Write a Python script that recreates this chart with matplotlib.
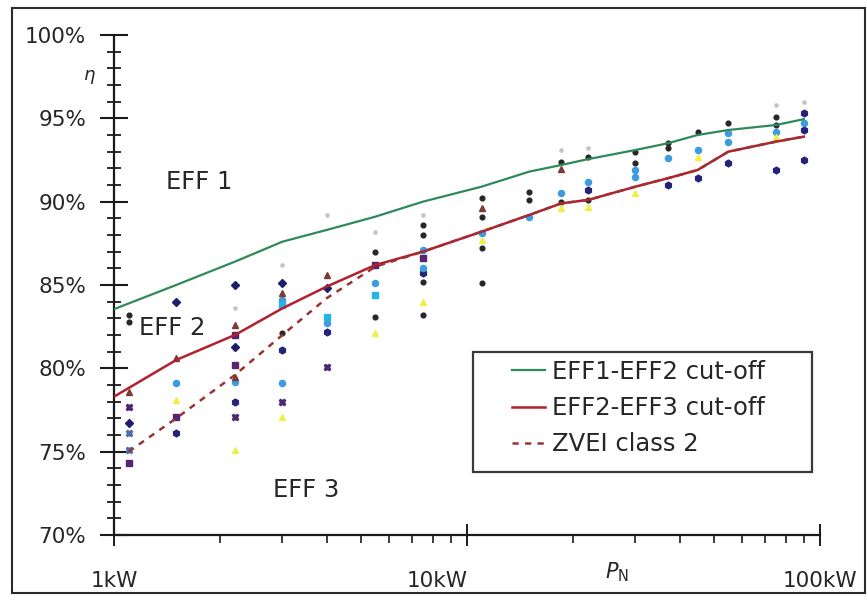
import matplotlib
matplotlib.use("Agg")
import matplotlib.pyplot as plt
from matplotlib.patches import Rectangle
from matplotlib.ticker import LogLocator, NullFormatter, FixedLocator
from matplotlib.transforms import ScaledTranslation

# ---------------- data ----------------
line_kw = [1.0, 1.5, 2.2, 3, 4, 5.5, 7.5, 11, 15, 18.5, 22, 30, 37, 45, 55, 75, 90]
eff1_eff2 = [83.55, 85.0, 86.4, 87.6, 88.3, 89.1, 90.0, 90.9, 91.8, 92.2, 92.55, 93.1, 93.5, 94.0, 94.3, 94.6, 94.95]
eff2_eff3 = [78.3, 80.5, 82.0, 83.6, 84.9, 86.2, 87.0, 88.2, 89.2, 89.9, 90.1, 90.9, 91.4, 91.9, 93.0, 93.6, 93.9]
zvei_kw = [1.1, 1.5, 2.2, 3, 4, 5.5, 7.5, 11, 15, 18.5, 22, 30, 37, 45, 55, 75, 90]
zvei_class2 = [75.0, 77.0, 79.6, 82.0, 84.2, 86.1, 87.0, 88.2, 89.2, 89.9, 90.1, 90.9, 91.4, 91.9, 93.0, 93.6, 93.9]

navy_d_kw = [1.1, 1.5, 2.2, 2.2, 3, 4]
navy_d_eta = [76.7, 84.0, 85.0, 81.3, 85.1, 84.8]

navy_o_kw = [1.5, 2.2, 3, 4, 7.5, 22, 37, 45, 55, 75, 90, 90, 90]
navy_o_eta = [76.1, 78.0, 81.1, 82.2, 85.7, 90.7, 91.0, 91.4, 92.3, 91.9, 92.5, 95.3, 94.3]

lblue_kw = [1.5, 2.2, 3, 3, 4, 5.5, 7.5, 7.5, 11, 15, 18.5, 22, 30, 30, 37, 45, 55, 55, 75, 90]
lblue_eta = [79.1, 79.2, 84.1, 79.1, 82.7, 85.1, 87.1, 86.0, 88.1, 89.1, 90.5, 91.2, 91.9, 91.5, 92.6, 93.1, 94.1, 93.6, 94.2, 94.7]

cyan_kw = [3, 4, 5.5]
cyan_eta = [83.8, 83.1, 84.4]

yellow_kw = [1.5, 2.2, 3, 5.5, 7.5, 11, 18.5, 22, 30, 45, 75]
yellow_eta = [78.1, 75.1, 77.1, 82.1, 84.0, 87.7, 89.6, 89.7, 90.5, 92.7, 93.9]

purple_s_kw = [1.1, 1.5, 2.2, 2.2, 5.5, 7.5]
purple_s_eta = [74.3, 77.1, 80.2, 82.0, 86.2, 86.6]

purple_x_kw = [1.1, 2.2, 3, 4]
purple_x_eta = [77.7, 77.1, 78.0, 80.1]

steel_kw = [1.1, 1.1]
steel_eta = [76.1, 75.1]

brown_kw = [1.1, 1.5, 2.2, 2.2, 3, 4, 11, 18.5]
brown_eta = [78.6, 80.6, 82.6, 79.5, 84.5, 85.6, 89.6, 91.95]

black_kw = [1.1, 1.1, 3, 5.5, 5.5, 7.5, 7.5, 7.5, 7.5, 11, 11, 11, 11, 15, 15,
            18.5, 18.5, 22, 22, 30, 30, 37, 37, 45, 55, 75, 75]
black_eta = [83.2, 82.8, 82.1, 87.0, 83.1, 88.6, 88.0, 85.2, 83.2, 90.2, 89.1, 87.2, 85.1, 90.6, 90.1,
             92.4, 90.0, 92.7, 90.1, 93.0, 92.3, 93.5, 93.2, 94.2, 94.7, 95.1, 94.6]

faint_kw = [2.2, 3, 4, 5.5, 7.5, 18.5, 22, 75, 90]
faint_eta = [83.6, 86.2, 89.2, 88.2, 89.2, 93.1, 93.2, 95.8, 96.0]

x_ticks = [1, 10, 100]
x_ticklabels = ["1kW", "10kW", "100kW"]
y_ticks = [70, 75, 80, 85, 90, 95, 100]
y_ticklabels = ["70%", "75%", "80%", "85%", "90%", "95%", "100%"]

# ---------------- figure ----------------
W, H = 867, 596
fig = plt.figure(figsize=(W / 100, H / 100), dpi=100)
fig.patch.set_facecolor("white")
ax = fig.add_axes([114 / W, 1 - 535 / H, (820 - 114) / W, 500 / H])

TXT = "#262626"
FS_TICK = 15.5
FS_TXT = 17.5

ax.set_xscale("log")
ax.set_xlim(1, 100)
ax.set_ylim(70, 100)

# scatter points
ax.plot(faint_kw, faint_eta, ls="none", marker="o", ms=2.3, color="#c4c4c4", zorder=2)
ax.plot(black_kw, black_eta, ls="none", marker="o", ms=3.4, color="#262626", zorder=3)
ax.plot(navy_d_kw, navy_d_eta, ls="none", marker="D", ms=4.0, color="#1c1f6e", zorder=3)
ax.plot(navy_o_kw, navy_o_eta, ls="none", marker="h", ms=4.8, color="#25227a", zorder=3)
ax.plot(lblue_kw, lblue_eta, ls="none", marker="o", ms=4.4, color="#3d9be0", zorder=3)
ax.plot(cyan_kw, cyan_eta, ls="none", marker="s", ms=4.0, color="#26b4e6", zorder=3)
ax.plot(yellow_kw, yellow_eta, ls="none", marker="^", ms=5.0, color="#eef04a", zorder=3)
ax.plot(purple_s_kw, purple_s_eta, ls="none", marker="s", ms=3.8, color="#55266f", zorder=3)
ax.plot(purple_x_kw, purple_x_eta, ls="none", marker="X", ms=4.5, color="#4b2870", zorder=3)
ax.plot(steel_kw, steel_eta, ls="none", marker="X", ms=4.5, color="#4a6fb0", zorder=3)
ax.plot(brown_kw, brown_eta, ls="none", marker="^", ms=4.5, color="#7a3b34", zorder=3)

# lines
l1, = ax.plot(line_kw, eff1_eff2, color="#2f8a5a", lw=1.6, zorder=4, label="EFF1-EFF2 cut-off")
l2, = ax.plot(line_kw, eff2_eff3, color="#b3202e", lw=1.8, zorder=4, label="EFF2-EFF3 cut-off")
l3, = ax.plot(zvei_kw, zvei_class2, color="#9a3434", lw=1.8, ls=(0, (2.5, 2.5)), zorder=5, label="ZVEI class 2")

# spines
for s in ["top", "right"]:
    ax.spines[s].set_visible(False)
for s in ["left", "bottom"]:
    ax.spines[s].set_linewidth(1.6)
    ax.spines[s].set_color("#1a1a1a")

# ticks
ax.xaxis.set_major_locator(FixedLocator(x_ticks))
ax.set_xticklabels(x_ticklabels)
ax.xaxis.set_minor_locator(LogLocator(base=10, subs=range(2, 10)))
ax.xaxis.set_minor_formatter(NullFormatter())
ax.set_yticks(y_ticks)
ax.set_yticklabels(y_ticklabels)
ax.yaxis.set_minor_locator(FixedLocator(range(70, 101)))

ax.tick_params(axis="y", which="major", direction="inout", length=20, width=1.5,
               pad=10, labelsize=FS_TICK, labelcolor=TXT, color="#1a1a1a")
ax.tick_params(axis="y", which="minor", direction="inout", length=10, width=1.3, color="#1a1a1a")
ax.tick_params(axis="x", which="major", direction="inout", length=16, width=1.4,
               pad=18, labelsize=FS_TICK, labelcolor=TXT, color="#1a1a1a")
ax.tick_params(axis="x", which="minor", direction="out", length=6, width=1.2, color="#1a1a1a")

for lab in ax.get_xticklabels():
    if lab.get_text() == "10kW":
        lab.set_transform(lab.get_transform() + ScaledTranslation(-0.30, 0, fig.dpi_scale_trans))

# axis labels
ax.text(-0.034, 0.92, "η", transform=ax.transAxes, ha="center", va="center",
        fontsize=13, style="italic", color=TXT)
ax.text(0.712, -0.074, r"$P_{\rm N}$", transform=ax.transAxes, ha="center", va="center",
        fontsize=15, color=TXT)

# region labels
ax.text(1.741, 91.18, "EFF 1", ha="center", va="center", fontsize=FS_TXT, color=TXT)
ax.text(1.46, 82.42, "EFF 2", ha="center", va="center", fontsize=FS_TXT, color=TXT)
ax.text(3.50, 72.7, "EFF 3", ha="center", va="center", fontsize=FS_TXT, color=TXT)

# legend
leg = fig.legend(handles=[l1, l2, l3], loc="upper left",
                 bbox_to_anchor=(512 / W, 1 - 360 / H), frameon=False,
                 fontsize=FS_TXT, handlelength=1.35, handletextpad=0.3,
                 labelspacing=0.5, borderpad=0, borderaxespad=0)
for t in leg.get_texts():
    t.set_color(TXT)
fig.patches.append(Rectangle((473 / W, 1 - 472 / H), (812 - 473) / W, (472 - 352) / H,
                             transform=fig.transFigure, fill=False, edgecolor="#3a3a3a", lw=1.6))

# outer frame
fig.patches.append(Rectangle((12 / W, 3 / H), (865 - 12) / W, (588 - 3) / H,
                             transform=fig.transFigure, fill=False, edgecolor="#2a2a2a", lw=1.5))

fig.savefig("out.png", dpi=100)
